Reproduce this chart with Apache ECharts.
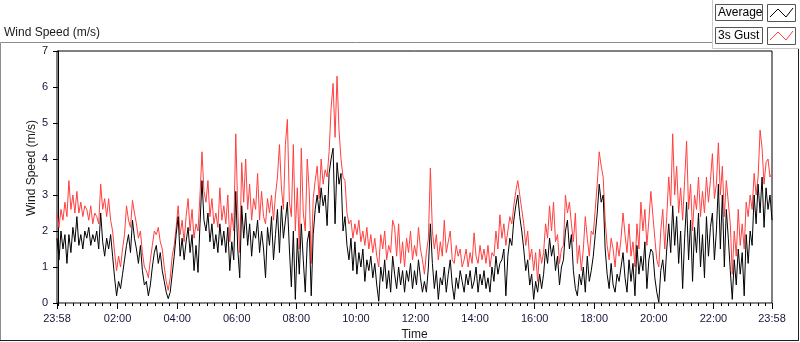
<!DOCTYPE html>
<html>
<head>
<meta charset="utf-8">
<title>Wind Speed (m/s)</title>
<script src="https://cdn.jsdelivr.net/npm/echarts@6/dist/echarts.min.js"></script>
<style>
    html, body { margin: 0; padding: 0; background: #fff; }
    #chart-container { width: 800px; height: 342px; }
</style>
</head>
<body>
<div id="chart-container"></div>
<script>
// samples every 4 minutes, starting 23:58 (minute -2)
const startMinute = -2;
const stepMinutes = 4;

const avgSpeed = [
    1.8,1.2,2.0,1.5,1.9,  1.1,1.9,1.4,2.1,1.7,  2.4,1.6,1.9,1.5,2.0,  1.8,2.1,1.6,1.9,1.7,
    2.0,1.5,2.5,1.7,1.3,  1.8,1.5,1.9,1.3,0.7,  0.2,0.6,0.4,0.8,1.2,  1.6,1.9,1.4,2.3,1.8,
    1.5,1.1,1.6,0.9,0.5,  0.6,0.2,0.5,1.0,1.4,  1.6,1.1,1.4,0.9,0.6,  0.3,0.12,0.3,0.8,1.3,
    1.9,2.4,1.3,1.8,1.2,  1.7,2.1,1.4,1.9,0.9,  1.6,0.85,2.2,3.4,2.3, 2.0,2.5,1.7,2.2,1.5,
    1.9,1.4,2.2,1.6,2.0,  1.4,2.1,0.9,1.7,1.2,  3.1,1.5,0.7,2.7,1.8,  2.5,1.6,2.2,1.3,2.0,
    1.8,2.3,1.4,2.0,1.5,  0.7,2.1,1.6,2.4,1.2,  1.9,2.6,1.4,2.7,1.8,  2.3,2.8,1.5,0.45,2.0,
    0.1,1.8,0.8,2.2,1.2,  0.3,1.7,2.0,0.2,1.9,  2.6,3.0,2.5,3.2,2.7,  3.0,2.15,3.6,4.0,4.3,
    2.2,3.9,3.3,3.6,2.0,  2.4,1.6,1.2,1.8,0.9,  1.7,0.8,1.4,1.0,1.5,  0.6,1.2,0.9,1.3,0.7,
    1.1,0.5,0.05,1.0,0.6, 1.2,0.4,0.9,0.3,1.3,  0.8,0.4,1.0,0.5,0.9,  0.3,0.9,0.6,1.1,0.4,
    0.9,0.5,1.2,0.7,0.3,  0.6,0.3,1.0,2.2,1.1,  0.4,0.9,0.1,0.7,0.5,  1.0,0.3,0.8,1.2,0.5,
    0.1,0.7,0.4,0.9,0.6,  0.3,0.8,0.5,0.9,0.4,  0.6,1.0,0.3,0.8,0.5,  0.9,0.4,0.7,0.3,1.0,
    0.6,1.3,0.8,1.1,1.2,  1.5,0.2,1.3,1.8,1.6,  2.3,2.7,3.0,2.4,2.0,  1.5,0.9,1.2,0.5,0.8,
    0.1,0.6,0.3,0.8,0.4,  0.8,1.5,1.1,1.8,1.3,  1.6,0.9,1.3,0.5,1.0,  1.2,2.0,2.3,1.5,1.9,
    0.9,0.4,0.2,0.8,0.5,  1.0,0.3,1.3,0.6,0.9,  1.3,1.9,2.5,3.3,2.8,  3.0,1.5,0.8,0.4,1.1,
    0.5,0.3,0.8,0.6,1.0,  1.4,0.7,0.3,1.2,0.6,  1.1,0.2,1.6,0.8,1.3,  0.9,1.7,0.4,1.2,1.5,
    1.4,0.7,0.3,0.02,0.9, 1.2,0.6,1.5,2.2,1.4,  2.7,1.6,2.4,1.1,2.0,  0.4,1.8,2.8,1.2,2.3,
    0.6,2.1,1.4,2.5,1.0,  1.9,0.7,2.4,1.3,2.1,  2.5,1.2,2.0,3.3,1.5,  3.0,1.0,2.6,1.8,0.9,
    0.1,1.2,0.5,1.5,0.8,  1.4,0.2,1.9,1.1,2.0,  1.6,3.0,2.2,3.3,2.5,  3.5,2.1,3.2,2.6,3.0,2.3
];

const gustSpeed = [
    2.5,2.1,2.6,2.3,2.8,  2.4,3.4,2.6,3.0,2.5,  3.1,2.5,2.8,2.4,2.7,  2.6,2.3,2.7,2.2,2.5,
    2.4,2.2,3.3,2.6,2.9,  2.4,2.9,2.3,2.0,1.4,  0.9,1.3,1.0,1.5,1.9,  2.7,2.3,2.1,2.85,2.5,
    2.2,1.8,2.0,1.4,1.0,  0.9,0.7,1.2,1.6,2.0,  1.9,2.1,1.7,1.5,1.0,  0.6,0.35,0.7,1.3,1.6,
    2.1,2.7,1.9,2.3,1.7,  2.4,2.9,2.0,2.6,1.8,  2.2,2.0,3.0,4.2,3.1,  2.8,3.4,2.4,2.9,2.2,
    2.5,2.1,3.2,2.3,2.7,  2.2,3.0,1.7,2.5,2.0,  4.7,2.6,1.4,3.9,2.8,  4.0,2.6,3.3,2.3,2.9,
    2.6,3.6,2.3,3.1,2.4,  2.2,2.9,2.5,3.0,2.3,  3.0,3.5,4.4,3.2,2.6,  4.4,5.1,2.8,2.4,4.4,
    2.0,3.2,1.5,4.3,2.5,  2.0,4.0,3.1,1.1,2.9,  3.4,3.8,2.9,4.0,3.3,  3.7,3.5,4.2,5.4,6.1,
    4.6,6.3,4.8,4.0,3.5,  3.4,2.5,2.2,2.3,1.8,  2.2,1.9,2.3,1.7,2.0,  1.6,2.1,1.5,1.9,1.4,
    1.8,1.3,1.0,1.9,1.5,  2.0,1.2,1.6,1.4,2.3,  2.1,1.3,2.2,1.1,1.7,  1.0,1.8,1.4,2.0,1.2,
    1.6,1.3,2.1,1.5,1.2,  0.8,1.4,1.8,3.75,2.0, 1.5,1.9,1.2,1.7,1.3,  2.3,1.4,1.7,2.0,1.2,
    1.1,1.6,1.3,1.5,1.0,  1.2,1.5,1.0,1.4,1.1,  1.95,1.3,1.1,1.6,1.2, 1.5,1.1,1.6,1.0,1.4,
    1.3,2.0,1.5,2.45,1.8, 2.2,1.6,2.0,2.4,2.2,  2.7,3.1,3.4,3.0,2.6,  2.2,1.6,2.0,1.2,1.5,
    0.9,1.4,0.6,1.5,1.1,  1.4,2.2,1.8,2.7,2.0,  2.8,1.7,1.9,1.1,1.5,  1.6,3.0,2.5,2.8,2.2,
    1.7,2.5,1.1,1.6,0.9,  1.5,2.4,1.8,1.3,2.0,  1.9,2.6,3.3,4.2,3.8,  3.5,2.3,1.6,1.2,1.8,
    1.5,1.0,1.7,1.3,1.8,  2.5,1.9,1.4,2.2,1.3,  1.7,1.0,2.2,1.5,2.8,  2.0,2.6,1.6,2.3,3.1,
    3.1,1.8,1.2,1.0,2.0,  2.6,1.5,2.4,3.5,2.7,  4.7,3.0,3.8,2.5,3.2,  2.3,3.4,4.5,2.6,3.3,
    2.0,3.0,2.6,3.5,2.4,  3.1,2.5,3.5,2.8,3.4,  4.15,2.9,3.3,4.45,3.0, 3.8,2.4,3.4,2.8,2.2,
    0.8,2.0,1.3,2.6,1.6,  2.2,1.5,2.8,2.4,3.0,  2.6,3.6,3.0,3.5,4.8,  4.3,3.3,3.9,4.0,3.5,3.6
];

// time axis labels (minutes after 00:00)
const timeLabelMinutes = [-2, 120, 240, 360, 480, 600, 720, 840, 960, 1080, 1200, 1320, 1438];
const timeLabels = ['23:58', '02:00', '04:00', '06:00', '08:00', '10:00', '12:00',
                    '14:00', '16:00', '18:00', '20:00', '22:00', '23:58'];

const chartDom = document.getElementById('chart-container');
const myChart = echarts.init(chartDom);

const FONT = 'Liberation Sans';

// minor ticks every 15 minutes
const minorTicks = [];
for (let m = 0; m < 1440; m += 15) {
    if (timeLabelMinutes.indexOf(m) < 0) minorTicks.push(m);
}

function toPairs(arr) {
    return arr.map((v, i) => [startMinute + i * stepMinutes, v]);
}

const option = {
    animation: false,
    backgroundColor: '#fff',
    grid: {
        left: 57, top: 51, right: 28, bottom: 39,
        outerBoundsMode: 'none',
        containLabel: false,
        show: true,
        borderColor: '#000',
        borderWidth: 1,
        backgroundColor: '#fff'
    },
    xAxis: [
        {
            type: 'value',
            min: -2,
            max: 1438,
            position: 'bottom',
            name: 'Time',
            nameLocation: 'middle',
            nameGap: 26,
            nameTextStyle: { fontFamily: FONT, fontSize: 12, color: '#1a1a1a' },
            axisLine: { show: true, lineStyle: { color: '#888', width: 1 } },
            axisTick: { show: true, customValues: timeLabelMinutes, length: 6, lineStyle: { color: '#000' } },
            axisLabel: {
                show: true,
                customValues: timeLabelMinutes,
                showMinLabel: true,
                showMaxLabel: true,
                margin: 10,
                fontFamily: FONT,
                fontSize: 11,
                color: '#15153a',
                formatter: function (value) {
                    const k = timeLabelMinutes.indexOf(value);
                    return k >= 0 ? timeLabels[k] : '';
                }
            },
            splitLine: { show: false }
        },
        {
            type: 'value',
            min: -2,
            max: 1438,
            position: 'bottom',
            axisLine: { show: false },
            axisTick: { show: true, customValues: minorTicks, length: 3, lineStyle: { color: '#000' } },
            axisLabel: { show: false },
            splitLine: { show: false }
        }
    ],
    yAxis: {
        type: 'value',
        min: 0,
        max: 7,
        interval: 1,
        axisLine: { show: true, lineStyle: { color: '#000', width: 1 } },
        axisTick: { show: true, length: 5, lineStyle: { color: '#000' } },
        axisLabel: { margin: 9, fontFamily: FONT, fontSize: 11, color: '#15153a' },
        splitLine: { show: false }
    },
    series: [
        {
            name: '3s Gust',
            type: 'line',
            data: toPairs(gustSpeed),
            showSymbol: false,
            symbol: 'none',
            lineStyle: { color: '#ff4040', width: 1 },
            itemStyle: { color: '#ff4040' }
        },
        {
            name: 'Average',
            type: 'line',
            data: toPairs(avgSpeed),
            showSymbol: false,
            symbol: 'none',
            lineStyle: { color: '#000', width: 1 },
            itemStyle: { color: '#000' }
        }
    ],
    graphic: {
        elements: [
            // outer frame
            { type: 'line', shape: { x1: 0.5, y1: 42.5, x2: 712.5, y2: 42.5 }, style: { stroke: '#8c8c8c', lineWidth: 1 } },
            { type: 'line', shape: { x1: 0.5, y1: 42.5, x2: 0.5, y2: 340.5 }, style: { stroke: '#8c8c8c', lineWidth: 1 } },
            { type: 'line', shape: { x1: 0, y1: 340.5, x2: 799, y2: 340.5 }, style: { stroke: '#1e1e1e', lineWidth: 1 } },
            { type: 'line', shape: { x1: 798.5, y1: 48.5, x2: 798.5, y2: 340.5 }, style: { stroke: '#1e1e1e', lineWidth: 1 } },
            { type: 'line', shape: { x1: 712.5, y1: 0, x2: 712.5, y2: 48.5 }, style: { stroke: '#c8c8c8', lineWidth: 1 } },
            { type: 'line', shape: { x1: 712.5, y1: 48.5, x2: 799, y2: 48.5 }, style: { stroke: '#c8c8c8', lineWidth: 1 } },
            // title
            {
                type: 'text', left: 4, top: 27,
                style: { text: 'Wind Speed (m/s)', font: '12px "Liberation Sans"', fill: '#1a1a1a' }
            },
            // y axis name
            {
                type: 'text', x: 32, y: 168, rotation: Math.PI / 2,
                style: {
                    text: 'Wind Speed (m/s)', font: '12px "Liberation Sans"', fill: '#1a1a1a',
                    align: 'center', verticalAlign: 'middle'
                }
            },
            // legend: Average
            { type: 'rect', shape: { x: 715.5, y: 4.5, width: 47, height: 16 }, style: { fill: '#fbfbfb', stroke: '#555', lineWidth: 1 } },
            { type: 'text', x: 718, y: 13, style: { text: 'Average', font: '12px "Liberation Sans"', fill: '#000', verticalAlign: 'middle' } },
            { type: 'rect', shape: { x: 767.5, y: 4.5, width: 28, height: 17 }, style: { fill: '#fff', stroke: '#555', lineWidth: 1 } },
            { type: 'polyline', shape: { points: [[770, 17], [778, 9], [786, 17], [793, 8]] }, style: { stroke: '#000', lineWidth: 1, fill: null } },
            // legend: 3s Gust
            { type: 'rect', shape: { x: 715.5, y: 27.5, width: 47, height: 16 }, style: { fill: '#fbfbfb', stroke: '#555', lineWidth: 1 } },
            { type: 'text', x: 718, y: 36, style: { text: '3s Gust', font: '12px "Liberation Sans"', fill: '#000', verticalAlign: 'middle' } },
            { type: 'rect', shape: { x: 767.5, y: 27.5, width: 28, height: 17 }, style: { fill: '#fff', stroke: '#555', lineWidth: 1 } },
            { type: 'polyline', shape: { points: [[770, 40], [778, 32], [786, 40], [793, 31]] }, style: { stroke: '#ff4040', lineWidth: 1, fill: null } }
        ]
    }
};

myChart.setOption(option);
window.addEventListener('resize', () => myChart.resize());
</script>
</body>
</html>
